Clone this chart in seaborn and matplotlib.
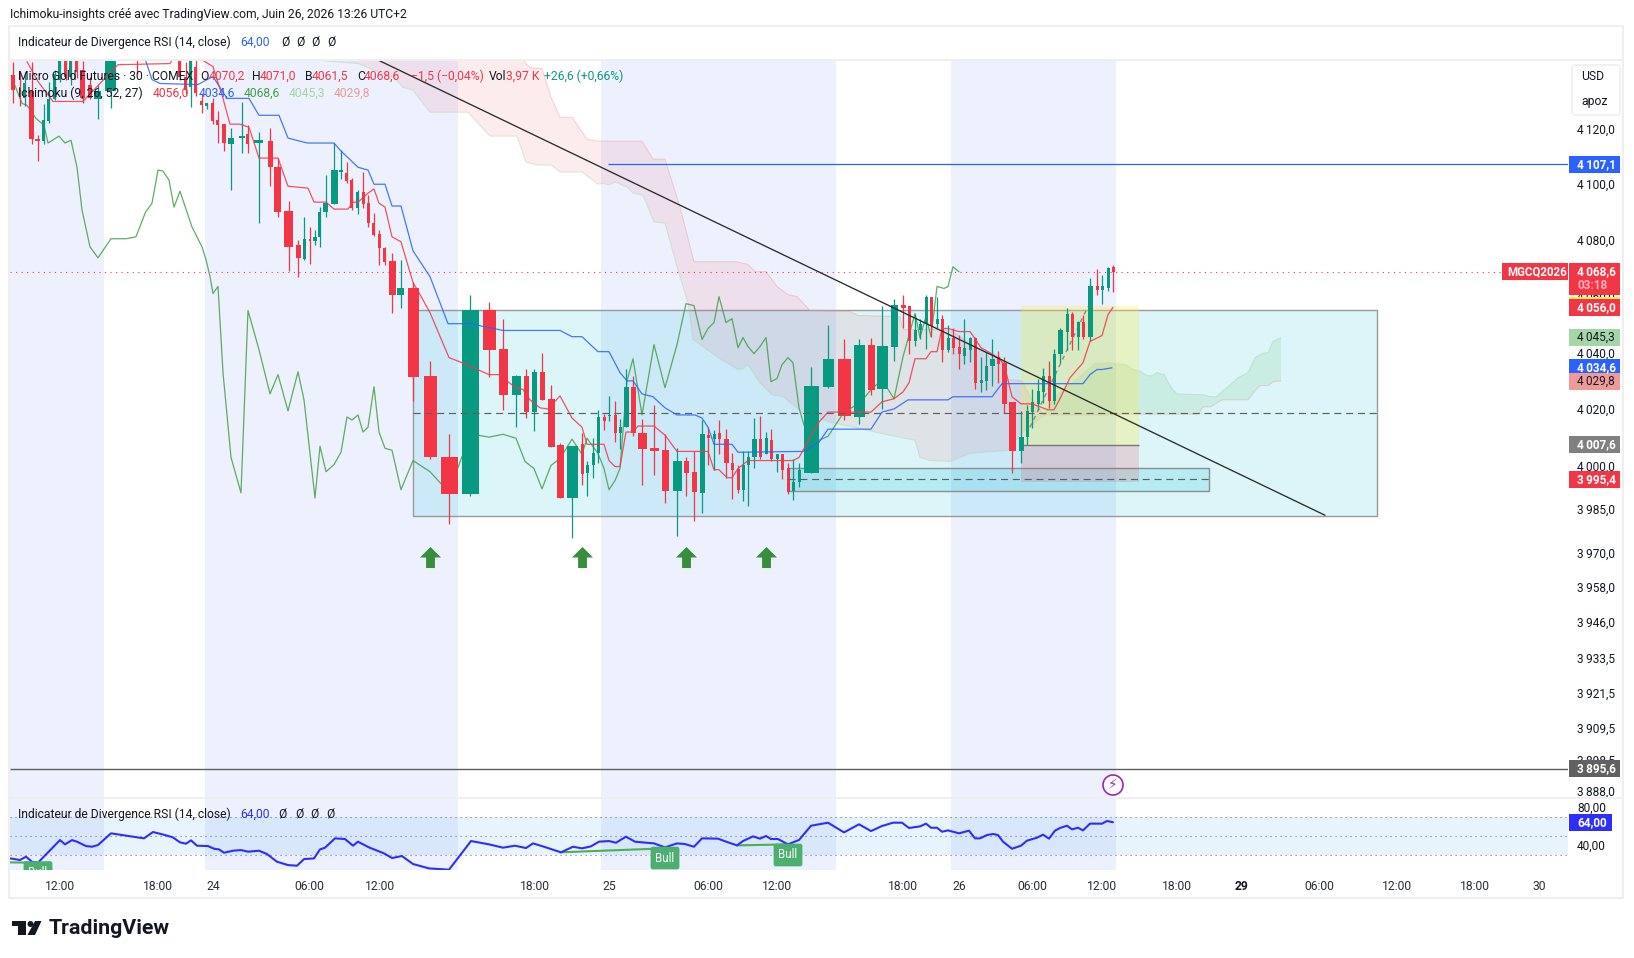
import matplotlib
matplotlib.use('Agg')
import numpy as np
import pandas as pd
import seaborn as sns
import matplotlib.pyplot as plt
from matplotlib.patches import Rectangle, Polygon, Circle, FancyBboxPatch
from matplotlib.ticker import NullLocator, NullFormatter

#Candles: time slot on the chart axis, bar width (the chart widens bars with volume), then OHLC
candle_x = [13,20,25,32,38,44,49,55,60,66,71,77,83,90,98,111,137,180,186,191,196,202,207,213,218,224,231,241.6,248,259,
            270.5,278,288.6,298.5,304.5,309.6,315.5,320,326,334.5,341,347,352,358,363.5,368.5,374,379.5,385,392.5,401,413.3,430.3,449.3,470.3,489.3,503.3,516.3,526.3,534.3,
            542.3,551.3,560.3,572.3,582.3,587.3,593.3,598.3,604.3,609.3,615.3,620.3,626.3,633.3,642.3,654.3,665.3,677.3,686.3,694.3,702.3,708.3,714.3,719.3,726.3,732.3,738.3,743.3,748.3,754.3,
            760.3,766.3,771.3,777.3,782.3,788.3,793.3,799.3,811.3,828.3,844.3,859.3,871.3,882.3,894.3,903.3,909.3,915.3,920.3,926.3,931.3,937.3,942.3,948.3,953.3,959.3,964.3,970.3,975.3,981.3,
            986.3,992.3,998.3,1004.3,1012.3,1021.3,1027.3,1032.3,1038.3,1043.3,1049.3,1054.3,1060.3,1067.3,1072.3,1078.3,1083.3,1090.3,1097.3,1102.3,1108.3,1113.3]
candle_w = [4,1.5,3,5,5,3,3,3,3,3,3,3,5,4,7,11,1.5,3,3,3,3,3,3,3,3,3.5,6,6,3,9,
            5,7,9,5,3,1.5,4,3,5,7,4,3,3,3,3,3,3,3,3,7,7,11,13,17,17,13,9,9,5,5,
            5,7,7,11,3,3,3,3,3,3,3,3,5,5,9,9,7,9,5,5,5,3,3,3,5,3,3,3,3,5,
            3,3,3,3,3,3,3,3,15,11,13,11,7,11,7,5,3,3,3,3,3,3,3,3,3,3,3,3,3,3,
            3,5,3,5,7,5,3,3,3,3,3,3,5,3,3,3,3,5,3,3,3,3]
opens = [4139.1,4134.8,4130.8,4133.3,4116.1,4115.4,4122.6,4130.5,4137.6,4145.2,4138.7,4145.2,4141.2,4135.8,4130.5,4133.3,4148,4146.3,4138.7,4135.1,4142.3,4129.7,4127.9,4129,4122.9,4121.5,4114.3,4116.5,4117.9,4114.7,
         4115.4,4106,4090.3,4078.2,4073.3,4080.4,4079.7,4081.1,4089.9,4092.8,4104.3,4103.9,4101.4,4091.4,4097.1,4093.1,4086,4082.1,4077.2,4072.6,4060.2,4063,4031.8,4003.4,3990.3,4054.9,4041.4,4025.1,4031.8,4019,
         4033.2,4023.7,4007.3,3988.9,4007.7,3997.8,4000.3,4004.5,4017.3,4017.6,4018,4011.6,4013.7,4027.9,4011.6,4006.3,4005.6,3991.4,4002,3998.1,3990.7,4010.9,4009.5,4011.6,4009.5,4001,3999.2,3991.8,4000.3,4003.1,
         4009.5,4004.2,4009.1,4002.4,4004.2,3999.5,3991.4,3994.6,3997.8,4027.9,4037.8,4017.3,4042.8,4027.2,4042.1,4057,4056.3,4043.9,4047.8,4050.2,4059.8,4050.2,4051.7,4041,4045.3,4042.1,4038.9,4041,4045.3,4029.3,
         4030,4035.3,4038.5,4036.4,4022.6,4005.2,4010.2,4019,4021.9,4026.1,4031.8,4022.9,4039.6,4047.4,4053.8,4045.6,4050.9,4045.6,4063.4,4062.3,4063,4070.2]
highs = [4144.1,4140.5,4140.5,4144.1,4117.5,4128.6,4136.9,4140.9,4146.3,4146.6,4146.6,4146.6,4144.5,4138.7,4135.8,4148,4148.8,4148,4144.1,4148,4145.2,4132.6,4129,4130.8,4126.2,4121.5,4120,4129.4,4121.1,4118.6,
         4120,4109.3,4093.8,4080,4088.2,4084.6,4083.6,4091.7,4103.2,4114.7,4112.2,4107.8,4102.1,4097.8,4104.3,4096,4089.6,4083.6,4077.5,4075.4,4072.9,4065.1,4037.1,4011.2,4060.2,4058,4052,4032.2,4034.3,4034.3,
         4040,4028.6,4008,4007,4011.6,4002,4009.8,4019.8,4018.3,4024.7,4023,4016.6,4034.3,4031.8,4016.6,4021.5,4011.2,4006.3,4003.4,4005.2,4016.2,4013.7,4012.7,4016.2,4013,4004.5,4000.3,4005.2,4005.2,4016.9,
         4017.6,4012,4013,4004.2,4004.2,4001.3,4002.7,4001,4035,4049.9,4044.6,4044.9,4045.3,4056.6,4058.8,4060.2,4056.6,4053.8,4052,4060.2,4059.8,4059.5,4053.1,4049.9,4048.8,4046.3,4052,4045.6,4045.6,4038.5,
         4040.3,4044.9,4040.7,4038.5,4022.6,4019.4,4021.5,4027.2,4030.8,4034.6,4037.1,4041.4,4048.8,4055.6,4054.5,4051.3,4053.4,4066.5,4069.7,4067.6,4070.4,4071]
lows = [4129,4127.9,4127.9,4114.3,4108.2,4114.3,4121.8,4130.1,4136.6,4137.3,4135.5,4138,4129,4130.5,4123.3,4127.2,4139.8,4137.3,4132.3,4127.6,4131.5,4125.4,4126.9,4121.5,4114.7,4111.8,4097.8,4111.1,4111.1,4086,
        4099.2,4088.2,4069,4066.9,4072.9,4071.5,4078.2,4077.5,4088.2,4092.8,4101.7,4100.3,4090.7,4089.2,4091.4,4084.6,4081.4,4071.2,4071.2,4054.1,4055.6,4022.9,4002.7,3979.7,3989.6,4031.5,4019.8,4013.7,4016.9,4012.3,
        4023.3,4006.6,3988.9,3975.1,3993.5,3989.6,3996,4001.3,4012.7,4015.9,4008.4,4005.9,4013.7,4010.5,3993.5,3997.1,3987.1,3975.8,3989.6,3980.8,3983.6,4000.3,3998.8,4004.2,3996,3988.6,3990.7,3987.9,3986.1,3999.5,
        4002.7,4004.2,4002,3998.1,3995.6,3990.3,3988.2,3992.8,3997.8,4027.6,4016.2,4014.8,4025.1,4020.1,4037.1,4048.8,4039.3,4042.4,4044.9,4041.4,4045.6,4048.5,4036.8,4040.3,4039.6,4034,4036.1,4036.8,4027.2,4026.1,
        4026.9,4028.3,4029.3,4018.7,3997.8,4001.3,4007.3,4013.4,4019.8,4022.2,4020.5,4021.9,4036.4,4041,4041,4041,4044.9,4044.2,4060.5,4057.3,4061.9,4061.5]
closes = [4134,4134,4136.2,4116.1,4115.4,4122.9,4130.5,4139.8,4145.2,4138.7,4145.2,4140.5,4130.8,4130.8,4133.3,4148,4146.6,4138.7,4134,4146.3,4132.6,4128.3,4129,4122.6,4121.1,4114.7,4116.5,4117.2,4114.3,4115.7,
          4106,4089.9,4077.5,4073.6,4080.4,4079.7,4081.1,4089.9,4093.1,4105,4105,4101,4091.4,4097.1,4092.8,4086,4081.8,4077.2,4072.2,4060.2,4063,4031.5,4003.1,3990.3,4054.9,4041,4025.1,4031.8,4019,4033.2,
          4023.3,4006.6,3988.9,4007,3997.4,4000.6,4004.5,4017.3,4015.9,4018,4011.6,4013.7,4027.9,4011.6,4005.9,4005.2,3991.4,4002,3997.8,3991,4011.2,4009.8,4011.2,4009.5,4001,3998.8,3991.8,4000.3,4003.1,4009.5,
          4003.4,4009.8,4002.7,4004.2,3998.8,3991,3994.6,3998.8,4028.3,4037.8,4017.6,4042.8,4026.9,4042.4,4057,4055.9,4044.2,4048.1,4050.2,4059.8,4049.5,4052,4041,4045.3,4041.7,4039.3,4041.7,4045.3,4029.3,4030.4,
          4035.3,4037.8,4036.1,4021.9,4005.2,4010.2,4019.4,4022.6,4026.5,4031.8,4022.9,4039.6,4048.1,4053.8,4045.6,4050.9,4045.6,4063.4,4062.3,4063.4,4070.1,4068.6]

#Ichimoku lines
tenkan_x = [27,38,53,83,100,118,170,173,185,195,200,213,223,230,240,249,259,278,288,308,314,326,334,348,353,358,368,374,379,385,392,401,413,419,430,449,462,489,499,513,523,530,540,548,560,572,582,587,604,609,615,620,626,633,638,654,665,677,708,714,719,727,732,738,748,793,799,819,828,871,882,894,903,909,915,926,931,937,942,948,959,970,975,981,993,1004,1012,1021,1032,1048,1054,1060,1070,1083,1090,1102,1108,1113]
tenkan_p = [4144.1,4136.9,4129.7,4129.7,4136.2,4143,4143.4,4145.2,4148,4148,4145.2,4142.3,4130.8,4121.5,4121.5,4120.4,4109.3,4109.3,4099.2,4098.5,4093.5,4093.5,4091,4091,4093.5,4093.5,4096.7,4098.2,4093.1,4091.7,4081.1,4079.3,4064.8,4061.2,4054.1,4038.2,4036.4,4032.2,4032.2,4028.3,4026.9,4023.3,4020.5,4020.1,4024.7,4016.9,4013.7,4007.7,4007.7,4002,3999.9,3999.9,4012,4012,4014.1,4014.1,4010.9,4005.2,4005.2,3998.8,3998.8,3996,3996,3999.2,4002,4002,4003.1,4015.5,4019,4019,4022.6,4023.7,4026.1,4029.3,4037.8,4037.8,4040.3,4040.3,4048.5,4048.5,4047.4,4047.4,4044.9,4041.7,4039.3,4036.1,4024.4,4021.9,4021.9,4019.8,4019.8,4023.7,4031.1,4036.4,4043.9,4046,4053.4,4056]
kijun_x = [140,146,152,160,198,207,213,227,249,259,279,288,304,308,334,340,358,368,374,385,392,401,413,430,448,470,503,560,572,582,598,609,620,627,633,642,653,665,677,695,702,708,714,732,738,803,819,828,871,882,894,908,948,953,992,1002,1083,1090,1097,1102,1112]
kijun_p = [4148,4144.1,4137.6,4136.2,4135.8,4137.6,4138.7,4130.8,4130.8,4124.7,4124.7,4116.5,4115,4114.7,4114.7,4112.2,4106,4105,4099.9,4099.9,4092.1,4092.1,4076.1,4066.9,4050.2,4050.2,4047.8,4047.8,4045.6,4045.6,4040.3,4040.3,4032.9,4030,4030,4025.4,4024.4,4020.5,4018,4018,4016.9,4013.7,4007.7,4007.7,4004.9,4005.2,4008.4,4013,4013,4019,4020.1,4023.3,4023.3,4024.4,4024.4,4029,4029,4032.2,4034,4034,4034.6]
chikou_x = [11,22,27,36,44,48,59,65,71,77,82,90,98,111,126,136,145.5,152,158,163,169,174,180,192,202,206,210,213,218,223,231,241,248,259,270,278,288,298,304,315,320,326,334,341,347,352,358,363,368,374,379,385,392,401,413,430,441,458,462,478,489,503,516,525,534,542,551,560,572,582,587,598,604,609,615,620,627,633,642,654,665,677,686,694,702,708,714,719,726,732,738,743,748,754,760,766,771,777,782,788,793,799,804,819,828,844,860,871,882,894,903,915,920,926,931,937,944,948,953,959]
chikou_p = [4139.1,4129,4128.3,4123.6,4121.1,4114.7,4117.2,4114.7,4115.7,4106,4090.7,4077.5,4073.6,4080.4,4080.4,4081.1,4089.9,4093.1,4105,4104.6,4101.4,4091.7,4097.4,4084.6,4077.5,4072.9,4066.9,4060.9,4063.4,4032.9,4003.1,3990.7,4054.9,4041,4025.4,4032.2,4019.4,4033.2,4023.3,3988.9,4007,3998.1,4000.6,4004.9,4017.3,4016.2,4018,4012,4013.7,4027.9,4012,4006.3,4005.6,3991.8,4002,3998.1,3993.9,3999.5,4003.4,4010.9,4010.2,4011.2,4009.8,4001.7,3999.2,3992.1,4000.3,4002.7,4009.5,4004.2,4009.8,4004.5,3999.2,3991.8,3995,3999.2,4030,4037.8,4018,4042.8,4027.6,4042.8,4057.3,4056.6,4044.6,4048.5,4050.6,4059.8,4050.6,4052,4041.7,4045.3,4042.1,4039.6,4042.1,4045.3,4029.7,4030.8,4035.7,4038.2,4036.4,4020.5,4014.4,4009.1,4010.5,4019,4022.2,4026.9,4030.4,4023.7,4038.5,4053.8,4045.3,4052.7,4045.6,4063.4,4062.7,4063.4,4070.4,4068.6]

#Cloud edges, split where span A crosses span B
span_a_x = [300,320,358,395,403,413,430,468,490,517,526,537,551,560,582,598,603,609,615,627,633,643,654,665,677,688,693,720,738,743,748,760,772,783,803,830,880,915,920,930,950,970,1008,1020,1038,1044]
span_a_p = [4148,4144.5,4143.4,4138,4134.8,4133.7,4125.8,4125.8,4117.2,4117.2,4107.8,4106.8,4106.8,4104.3,4104.3,4099.9,4100.3,4099.6,4100.7,4098.9,4096.7,4096,4086.4,4086,4070.4,4057.7,4044.6,4037.8,4034,4034.3,4035.7,4029.3,4025.1,4024.4,4018.7,4015.5,4011.6,4009.1,4003.1,4002,4001.7,4004.5,4005.6,4010.9,4016.2,4018]
span_b_x = [300,524,525,530,542,551,560,572,587,597,642,653,665,680,694,737,748,755,766,777,788,797,810,850,858,900,903,940,953,960,983,1000,1008,1022,1030,1044]
span_b_p = [4148,4148,4143.7,4141.9,4141.6,4131.2,4124,4124,4116.1,4115.4,4115.4,4108.9,4108.9,4091.7,4072.2,4072.2,4071.2,4068.7,4068.7,4063.4,4060.5,4059.8,4054.9,4054.5,4053.1,4052.7,4048.1,4048.1,4047.4,4045.6,4040.3,4038.5,4030.4,4030,4024.4,4018]
span_a2_x = [1044,1055,1067,1080,1095,1108,1126,1133,1139,1147,1152,1157,1164,1172,1177,1203,1210,1216,1230,1238,1248,1255,1262,1268,1273,1281]
span_a2_p = [4018,4024.4,4027.9,4031.5,4036.1,4036.4,4035.7,4034,4033.6,4031.8,4031.8,4032.9,4032.2,4027.2,4025.4,4025.1,4024.4,4024.4,4028.6,4031.1,4032.9,4038.2,4039.6,4040,4043.9,4045.3]
span_b2_x = [1044,1110,1115,1198,1203,1210,1222,1248,1255,1260,1268,1273,1281]
span_b2_p = [4018,4018,4018.3,4018.3,4020.8,4020.8,4023.3,4023.3,4026.5,4028.3,4028.3,4029.7,4030]

#RSI pane
rsi_x = [10.5,20,26,32,38,60,65,72,77,86,92,98,111,144,153,165,173,180,186,191,197,208,214,219,224,233,241,248,259,267,277,288,297,304,314,320,325,335,345,353,358,369,384,392,402,413,429,449,471,489,503,515,526,533,544,561,573,582,591,599,609,616,626,635,654,665,677,685,694,702,718,727,737,743,753,760,766,771,778,788,799,811,828,844,859,871,882,893,902,909,920,926,931,937,942,948,959,969,975,980,987,993,998,1003,1012,1021,1027,1037,1043,1049,1055,1060,1067,1072,1078,1083,1090,1102,1107,1113]
rsi_v = [25.9,24.2,27.7,22.4,21.4,45.2,40.7,45.2,43.5,38.9,38.2,40,52.3,47,53.7,50.5,48,42.8,41.4,44.9,39.3,38.9,36.1,35.4,31.9,34,34.7,33,34,30.5,22.4,18.9,18.2,25.2,25.9,35.4,37.2,47,46.3,39.3,43.5,37.5,31.2,26.3,28.4,20,15.4,14,44.2,40.7,37.2,39.3,36.8,41.7,38.2,32.3,38.2,36.5,38.6,43.5,44.2,42.4,48.8,43.5,41.7,37.5,41.7,41,38.2,47,46.7,43.2,39.6,44.2,49.1,46.7,49.5,46.3,46.3,40.7,45.3,60.3,63.5,53.3,61.8,54.7,60,63.5,63.5,57.9,59.6,62.5,58.2,58.2,54,55.4,52.3,55.1,47,47,50.5,51.6,50.5,43.5,36.1,39.3,44.6,47.7,50.9,46.7,55.1,57.9,60.3,56.5,58.2,55.4,62.5,62.5,65.3,64]
rsi_levels = [30, 50, 70]

#Drawings on the chart
session_start = [10, 205, 601, 951]
session_end = [104, 458, 836, 1116]
trend_x = [378, 1325]
trend_p = [4144.7, 3982.9]
arrow_x = [430, 582, 686, 766]
arrow_p = [3968.3, 3968.3, 3968.3, 3968.3]

price_ticks = [4120,4100,4080,4060,4040,4020,4000,3985,3970,3958,3946,3933.5,3921.5,3909.5,3898.5,3888]
price_labels = ['4\u2009120,0','4\u2009100,0','4\u2009080,0','4\u2009060,0','4\u2009040,0','4\u2009020,0','4\u2009000,0','3\u2009985,0','3\u2009970,0','3\u2009958,0','3\u2009946,0','3\u2009933,5','3\u2009921,5','3\u2009909,5','3\u2009898,5','3\u2009888,0']
time_ticks = [60,158,213,309.6,380,534.5,609,708.7,777,903,959,1032,1102,1177,1242,1319,1397,1475,1539]
time_labels = ['12:00','18:00','24','06:00','12:00','18:00','25','06:00','12:00','18:00','26','06:00','12:00','18:00','29','06:00','12:00','18:00','30']

W, H = 1634, 958
UP, DOWN = '#089981', '#F23645'
BLUE = '#2962FF'
RSI_BLUE = '#2E2EFF'
BAND = '#EDF1FD'
FONT = 'Roboto'

sns.set_theme(style='white')
plt.rcParams['font.family'] = [FONT, 'DejaVu Sans']

fig = plt.figure(figsize=(W / 100, H / 100), dpi=100, facecolor='white')

def px_axes(x0, y0, x1, y1):
    return fig.add_axes([x0 / W, 1 - y1 / H, (x1 - x0) / W, (y1 - y0) / H])

def px_text(x, y, s, color='#131722', size=8.7, **kw):
    kw.setdefault('va', 'center')
    return fig.text(x / W, 1 - y / H, s, color=color, fontsize=size, **kw)

def px_rect(x0, y0, x1, y1, color, **kw):
    r = Rectangle((x0 / W, 1 - y1 / H), (x1 - x0) / W, (y1 - y0) / H, transform=fig.transFigure, facecolor=color, edgecolor='none', **kw)
    fig.add_artist(r)
    return r

ax = px_axes(10, 60, 1568, 798)
ax_rsi = px_axes(10, 798, 1568, 870)

for a in (ax, ax_rsi):
    a.set_xlim(10, 1568)
    a.set_facecolor('white')
    for s in a.spines.values():
        s.set_visible(False)
    for x0, x1 in zip(session_start, session_end):
        a.axvspan(x0, x1, color=BAND, lw=0, zorder=0)

ax.set_yscale('log')
ax.set_ylim(3885.6, 4144.7)

#Main pane boxes
ax.fill_between([413, 1377], 3982.5, 4054.9, facecolor='#00BCD4', alpha=0.14, edgecolor='none', zorder=1)
ax.add_patch(Rectangle((413, 3982.5), 964, 72.4, fill=False, edgecolor='#9A9A9A', lw=1.0, zorder=1.2))
ax.hlines(4018.7, 413, 1377, color='#5F5F5F', lw=0.85, linestyles=(0, (6, 4)), zorder=3.5)
ax.fill_between([788, 1209], 3991.4, 3999.5, facecolor='#00BCD4', alpha=0.16, edgecolor='none', zorder=1)
ax.add_patch(Rectangle((788, 3991.4), 421, 8.1, fill=False, edgecolor='#8E8E8E', lw=1.0, zorder=1.2))
ax.hlines(3995.4, 788, 1209, color='#5F5F5F', lw=0.85, linestyles=(0, (6, 4)), zorder=3.5)

#Cloud, red part then green part
ax.fill(span_a_x + span_b_x[::-1], span_a_p + span_b_p[::-1], facecolor='#F23645', alpha=0.09, edgecolor='none', zorder=1.5)
ax.fill(span_a2_x + span_b2_x[::-1], span_a2_p + span_b2_p[::-1], facecolor='#4CAF50', alpha=0.12, edgecolor='none', zorder=1.5)
sns.lineplot(x=span_a_x, y=span_a_p, ax=ax, color='#A5D6A7', lw=0.8, alpha=0.4, estimator=None, sort=False, zorder=1.6)
sns.lineplot(x=span_a2_x, y=span_a2_p, ax=ax, color='#A5D6A7', lw=0.8, alpha=0.4, estimator=None, sort=False, zorder=1.6)
sns.lineplot(x=span_b_x, y=span_b_p, ax=ax, color='#EF9A9A', lw=0.8, alpha=0.4, estimator=None, sort=False, zorder=1.6)
sns.lineplot(x=span_b2_x, y=span_b2_p, ax=ax, color='#EF9A9A', lw=0.8, alpha=0.4, estimator=None, sort=False, zorder=1.6)

#Candles
df = pd.DataFrame({'x': candle_x, 'w': candle_w, 'o': opens, 'h': highs, 'l': lows, 'c': closes})
df['color'] = np.where(df['c'] >= df['o'], UP, DOWN)
ax.vlines(df['x'], df['l'], df['h'], colors=df['color'], lw=0.9, zorder=3)
ax.bar(df['x'], (df['c'] - df['o']).abs().clip(lower=0.35), bottom=df[['o', 'c']].min(axis=1), width=df['w'], color=df['color'], lw=0, zorder=3.1)

#Ichimoku lines
sns.lineplot(x=chikou_x, y=chikou_p, ax=ax, color='#43A047', lw=0.9, alpha=0.85, estimator=None, sort=False, zorder=2.5)
sns.lineplot(x=kijun_x, y=kijun_p, ax=ax, color=BLUE, lw=0.9, alpha=0.85, estimator=None, sort=False, zorder=3.3)
sns.lineplot(x=tenkan_x, y=tenkan_p, ax=ax, color=DOWN, lw=0.9, alpha=0.85, estimator=None, sort=False, zorder=3.3)

#Long position tool
ax.fill_between([1021, 1139], 4007.6, 4056.6, facecolor='#FFEB3B', alpha=0.28, edgecolor='none', zorder=2)
ax.fill_between([1021, 1139], 3994.6, 4007.6, facecolor='#F23645', alpha=0.17, edgecolor='none', zorder=2)
ax.hlines(4007.6, 1021, 1139, color='#787878', lw=1.0, zorder=2.1)
sns.lineplot(x=[1030, 1088], y=[4013.7, 4056.3], ax=ax, color='#8A8A8A', lw=1.0, linestyle=(0, (3, 3)), estimator=None, sort=False, zorder=2.2)

sns.lineplot(x=trend_x, y=trend_p, ax=ax, color='#2A2A2A', lw=0.95, estimator=None, sort=False, zorder=4)
ax.hlines(4107.1, 608, 1568, color=BLUE, lw=0.9, zorder=2)
ax.hlines(3895.6, 10, 1568, color='#5D5D5D', lw=1.0, zorder=2)
ax.hlines(4068.6, 10, 1500, color=DOWN, lw=0.8, linestyles=(0, (1, 4)), zorder=2.4)

#Buy arrows
arrow_marker = [(-1, 0), (0, 1), (1, 0), (0.42, 0), (0.42, -1), (-0.42, -1), (-0.42, 0)]
ax.scatter(arrow_x, arrow_p, marker=arrow_marker, s=230, color='#388E3C', lw=0, zorder=4)

ax.yaxis.tick_right()
ax.yaxis.set_minor_locator(NullLocator())
ax.yaxis.set_minor_formatter(NullFormatter())
ax.set_yticks(price_ticks)
ax.set_yticklabels(price_labels)
ax.tick_params(axis='y', length=0, pad=6.5, labelsize=8.6, labelcolor='#131722')
ax.set_xticks([])
ax.set_xlabel('')
ax.set_ylabel('')

#RSI pane
ax_rsi.set_ylim(13.7, 89.5)
ax_rsi.axhspan(30, 70, color='#2196F3', alpha=0.1, lw=0, zorder=0.5)
ax_rsi.hlines(rsi_levels, 10, 1568, color='#787B86', lw=0.8, linestyles=(0, (1, 3.5)), zorder=1)
sns.lineplot(x=[560, 665], y=[32.3, 36.5], ax=ax_rsi, color='#4CAF50', lw=1.5, estimator=None, sort=False, zorder=2)
sns.lineplot(x=[737, 788], y=[39.6, 40.7], ax=ax_rsi, color='#4CAF50', lw=1.5, estimator=None, sort=False, zorder=2)
sns.lineplot(x=[10, 38], y=[21.7, 21.4], ax=ax_rsi, color='#4CAF50', lw=1.5, estimator=None, sort=False, zorder=2)
sns.lineplot(x=rsi_x, y=rsi_v, ax=ax_rsi, color=RSI_BLUE, lw=1.5, estimator=None, sort=False, zorder=3)
bull = dict(color='white', fontsize=8.3, ha='center', va='center', zorder=5, clip_on=True,
            bbox=dict(boxstyle='round,pad=0.42,rounding_size=0.2', fc='#4CAF6F', ec='none'))
ax_rsi.text(665, 26.3, 'Bull', **bull)
ax_rsi.text(788, 29.5, 'Bull', **bull)
ax_rsi.text(38, 11.0, 'Bull', **bull).set_clip_box(ax_rsi.bbox)
ax_rsi.yaxis.tick_right()
ax_rsi.set_yticks([40, 80])
ax_rsi.set_yticklabels(['40,00', '80,00'])
ax_rsi.tick_params(axis='y', length=0, pad=6.5, labelsize=8.6, labelcolor='#131722')
ax_rsi.set_xticks(time_ticks)
ax_rsi.set_xticklabels(time_labels)
ax_rsi.tick_params(axis='x', length=0, pad=7, labelsize=8.7, labelcolor='#2A2E39')
ax_rsi.get_xticklabels()[14].set_fontweight('bold')
ax_rsi.get_xticklabels()[14].set_color('#131722')
ax_rsi.set_xlabel('')
ax_rsi.set_ylabel('')

#Frame around the chart
fig.add_artist(Rectangle((9 / W, 1 - 898 / H), 1614 / W, 872 / H, transform=fig.transFigure, fill=False, edgecolor='#EFEFEF', lw=1.6))
px_rect(9, 59, 1623, 61, '#EFEFEF')
px_rect(9, 797, 1623, 799, '#EFEFEF')

#Price scale labels, placed from the price they show
fig.canvas.draw()
def price_y(p):
    return H - ax.transData.transform((1000, p))[1]

def price_tag(p, text, bg, fg='white', dy=0):
    y = price_y(p) + dy
    px_rect(1569, y - 8.5, 1620, y + 8.5, bg, zorder=4)
    px_text(1577, y, text, color=fg, zorder=5, size=8.5, fontweight='bold' if fg == 'white' else 'normal')

price_tag(4107.1, '4\u2009107,1', BLUE)
y_last = price_y(4068.6)
px_rect(1502, y_last - 8.5, 1568, y_last + 8.5, DOWN, zorder=4)
px_text(1507, y_last, 'MGCQ2026', color='white', zorder=5, size=8.3, fontweight='bold')
px_rect(1569, y_last - 8.5, 1620, y_last + 23, DOWN, zorder=4)
px_text(1577, y_last, '4\u2009068,6', color='white', zorder=5, size=8.5, fontweight='bold')
px_text(1577, y_last + 14, '03:18', color='#FBB4BA', zorder=5, size=8.5, fontweight='bold')
px_rect(1569, 297, 1620, 299.5, '#FFEB3B', zorder=4)
price_tag(4056.0, '4\u2009056,0', DOWN)
price_tag(4045.3, '4\u2009045,3', '#A5D6A7', fg='#131722')
price_tag(4034.6, '4\u2009034,6', BLUE)
price_tag(4029.8, '4\u2009029,8', '#EF9A9A', fg='#131722')
price_tag(4007.6, '4\u2009007,6', '#808080')
price_tag(3995.4, '3\u2009995,4', DOWN)
price_tag(3895.6, '3\u2009895,6', '#616161')

px_rect(1569, 814, 1612, 831, RSI_BLUE, zorder=4)
px_text(1577, 822.5, '64,00', color='white', zorder=5, size=8.5, fontweight='bold')

#Currency button
fig.add_artist(FancyBboxPatch((1572 / W, 1 - 115 / H), 48 / W, 50 / H, boxstyle='round,pad=0,rounding_size=0.002', transform=fig.transFigure, facecolor='white', edgecolor='#EFEFEF', lw=1.2, mutation_aspect=W / H))
px_text(1581, 77, 'USD')
px_text(1581, 101, 'apoz')

#Header and legends
px_text(10, 14.5, 'Ichimoku-insights créé avec TradingView.com, Juin 26, 2026 13:26 UTC+2')
px_text(18, 42, 'Indicateur de Divergence RSI (14, close)')
px_text(240, 42, '64,00', color=BLUE)
for x in (281, 296, 311, 327):
    px_text(x, 42, 'Ø')

px_text(18, 76, 'Micro Gold Futures · 30 · COMEX')
for x, s, c in [(200, 'O', '#131722'), (209, '4070,2', DOWN), (252, 'H', '#131722'), (260, '4071,0', DOWN),
                (304.5, 'B', '#131722'), (311.6, '4061,5', DOWN), (357, 'C', '#131722'), (364, '4068,6', DOWN),
                (411, '−1,5 (−0,04%)', DOWN), (489, 'Vol', '#131722'), (506, '3,97 K', DOWN), (544, '+26,6 (+0,66%)', UP)]:
    px_text(x, 76, s, color=c)
px_text(18, 93, 'Ichimoku (9, 26, 52, 27)')
for x, s, c in [(153, '4056,0', DOWN), (199, '4034,6', BLUE), (244, '4068,6', '#43A047'), (289, '4045,3', '#A5D6A7'), (334, '4029,8', '#EF9A9A')]:
    px_text(x, 93, s, color=c)

px_text(18, 814, 'Indicateur de Divergence RSI (14, close)')
px_text(240, 814, '64,00', color=RSI_BLUE)
for x in (278, 295, 310, 326):
    px_text(x, 814, 'Ø')

#Bolt marker at the last bar
fig.add_artist(Circle((1113, H - 785), 10, transform=None, facecolor='white', edgecolor='#9C27B0', lw=1.2, zorder=5))
fig.text(1113 / W, 1 - 785 / H, '\u26A1', family='DejaVu Sans', color='#9C27B0', fontsize=10, ha='center', va='center', zorder=6)

#TradingView mark and wordmark
px_rect(12, 921, 26, 926, '#131722')
px_rect(18, 921, 26, 935, '#131722')
fig.add_artist(Circle((30.5, H - 924), 3, transform=None, facecolor='#131722', edgecolor='none'))
fig.add_artist(Polygon([(35 / W, 1 - 921 / H), (41.5 / W, 1 - 921 / H), (35 / W, 1 - 935 / H), (27.5 / W, 1 - 935 / H)], closed=True, transform=fig.transFigure, facecolor='#131722', edgecolor='none'))
px_text(49, 928, 'TradingView', size=15.4, fontweight='bold')

fig.savefig('out.png', dpi=100, facecolor='white')
